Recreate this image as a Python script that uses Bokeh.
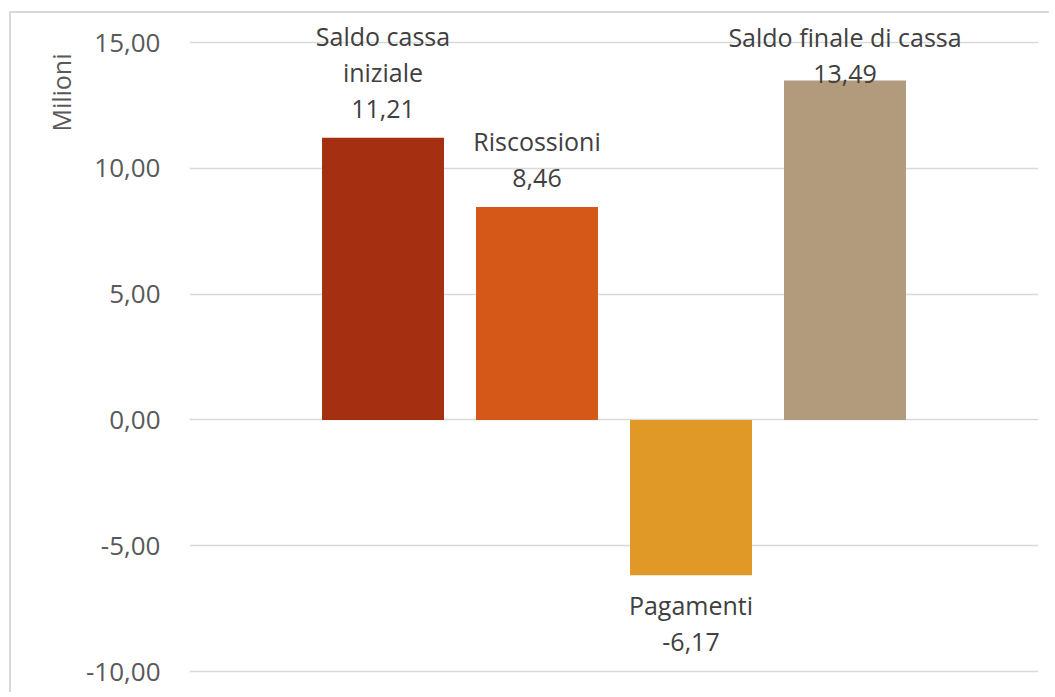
from bokeh.plotting import figure
from bokeh.models import (Range1d, FixedTicker, CustomJSTickFormatter, ColumnDataSource, Title)
from bokeh.core.properties import value
from bokeh.embed import file_html
from bokeh.resources import INLINE

# ---- data ----
categories = ["Saldo cassa\niniziale", "Riscossioni", "Pagamenti", "Saldo finale di cassa"]
values = [11.21, 8.46, -6.17, 13.49]
colors = ["#A52F11", "#D55818", "#E09827", "#B29B7C"]
y_ticks = [-10, -5, 0, 5, 10, 15]
y_title = "Milioni"

FONT = "Open Sans"

def fmt(v):
    return f"{v:.2f}".replace(".", ",")

xs = list(range(1, len(values) + 1))
labels = [c + "\n" + fmt(v) for c, v in zip(categories, values)]
pos = [v >= 0 for v in values]
# label placement (screen offsets, px)
y_off = [-13, -13, 13, 10]

# layout geometry (px, canvas coordinates)
W, H = 1040, 681
F_LEFT, F_RIGHT = 178, 1027
PX_PER_UNIT = 25.16
Y_TOP_PX = 29          # pixel row of the 15 gridline
x_half = (F_RIGHT - F_LEFT) / 2 / 154.0
x0, x1 = 2.5 - x_half, 2.5 + x_half
y_end = y_ticks[-1] + Y_TOP_PX / PX_PER_UNIT
y_start = y_end - H / PX_PER_UNIT

p = figure(width=W, height=H, output_backend="svg", toolbar_location=None,
           x_range=Range1d(x0, x1), y_range=Range1d(y_start, y_end),
           min_border_left=F_LEFT, min_border_right=W - F_RIGHT,
           min_border_top=0, min_border_bottom=0)
p.styles = {"margin-left": "9px", "margin-top": "11px",
            "border-left": "2px solid #D9D9D9", "border-top": "2px solid #D9D9D9"}
p.outline_line_color = None
p.background_fill_color = "white"
p.border_fill_color = "white"

p.xaxis.visible = False
p.xgrid.visible = False
yaxis = p.yaxis[0]
yaxis.ticker = FixedTicker(ticks=y_ticks)
yaxis.formatter = CustomJSTickFormatter(code="return tick.toFixed(2).replace('.', ',');")
yaxis.axis_line_color = None
yaxis.major_tick_line_color = None
yaxis.minor_tick_line_color = None
yaxis.major_tick_out = 0
yaxis.major_tick_in = 0
yaxis.major_label_standoff = 29
yaxis.major_label_text_font = FONT
yaxis.major_label_text_font_size = "26px"
yaxis.major_label_text_color = "#595959"
p.ygrid.ticker = FixedTicker(ticks=y_ticks)
p.ygrid.grid_line_color = "#D9D9D9"
p.ygrid.grid_line_width = 1.5

src = ColumnDataSource(dict(x=xs, top=values, color=colors))
p.vbar(x="x", top="top", bottom=0, width=0.792, fill_color="color", line_color=None, source=src)

pos_idx = [i for i, f in enumerate(pos) if f]
neg_idx = [i for i, f in enumerate(pos) if not f]
for idx, base in ((pos_idx, "bottom"), (neg_idx, "top")):
    s = ColumnDataSource(dict(x=[xs[i] for i in idx], y=[values[i] for i in idx],
                              label=[labels[i] for i in idx], yoff=[y_off[i] for i in idx]))
    p.text(x="x", y="y", text="label", y_offset="yoff", source=s,
           text_align="center", text_baseline=base, text_font=value(FONT),
           text_font_size="25px", text_color="#404040", text_line_height=1.06)

# axis title (near the top, on the left)
p.add_layout(Title(text=y_title, align="right", offset=40, text_font=FONT,
                   text_font_size="25px", text_font_style="normal", text_color="#595959"), "left")

open("out.html", "w").write(file_html(p, INLINE))
